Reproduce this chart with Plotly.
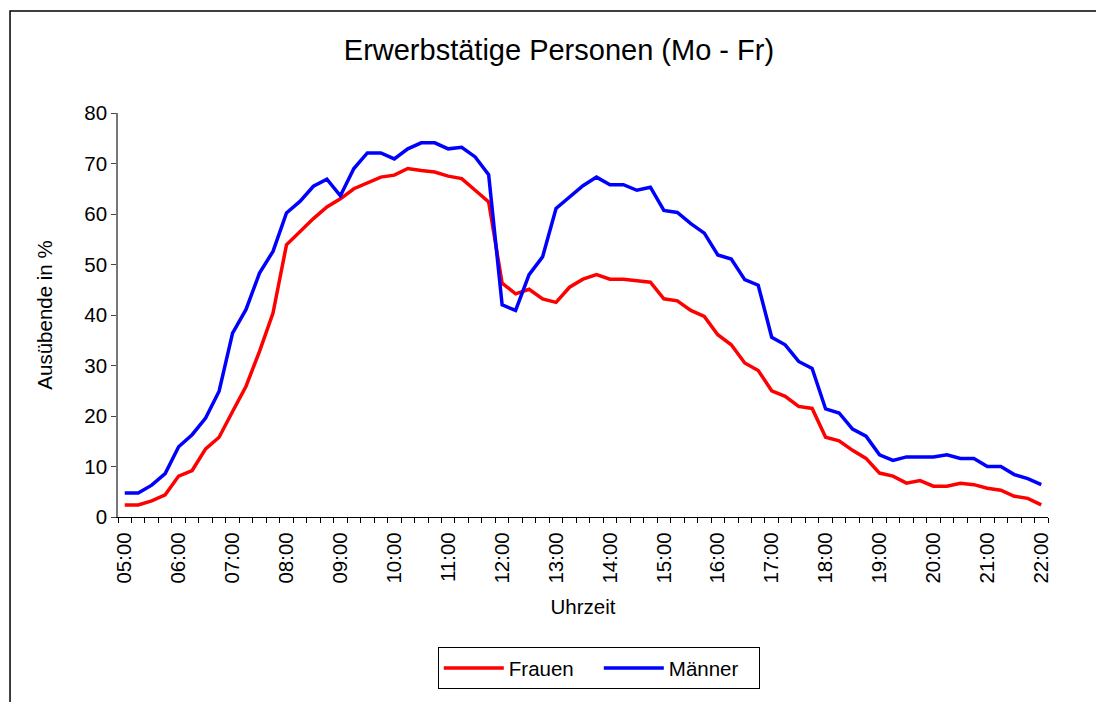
import plotly.graph_objects as go

# Time of day, every 15 minutes from 05:00 to 22:00
times = [f"{h:02d}:{m:02d}" for h in range(5, 23) for m in (0, 15, 30, 45)][:69]

frauen = [2.4, 2.4, 3.2, 4.4, 8.1, 9.2, 13.5, 15.8, 20.9, 25.9,
          32.8, 40.4, 53.9, 56.6, 59.1, 61.4, 63.0, 65.0, 66.1, 67.3,
          67.7, 69.0, 68.6, 68.3, 67.5, 67.0, 64.7, 62.4, 46.3, 44.2,
          45.1, 43.2, 42.5, 45.5, 47.1, 48.0, 47.1, 47.1, 46.8, 46.5,
          43.2, 42.8, 40.9, 39.7, 36.1, 34.1, 30.5, 29.0, 25.0, 23.9,
          21.9, 21.5, 15.8, 15.1, 13.2, 11.6, 8.7, 8.1, 6.7, 7.2,
          6.1, 6.1, 6.7, 6.4, 5.7, 5.3, 4.1, 3.7, 2.4]

maenner = [4.75, 4.75, 6.3, 8.6, 13.9, 16.3, 19.6, 24.9, 36.4, 41.1,
           48.3, 52.6, 60.2, 62.5, 65.5, 66.9, 63.6, 69.0, 72.1, 72.1,
           70.9, 72.9, 74.1, 74.1, 72.9, 73.2, 71.3, 67.8, 42.0, 40.9,
           48.0, 51.5, 61.1, 63.3, 65.6, 67.3, 65.8, 65.8, 64.7, 65.3,
           60.7, 60.3, 58.1, 56.2, 51.9, 51.1, 47.0, 45.9, 35.6, 34.1,
           30.8, 29.4, 21.4, 20.6, 17.4, 16.0, 12.3, 11.2, 11.9, 11.9,
           11.9, 12.3, 11.6, 11.6, 10.0, 10.0, 8.4, 7.6, 6.4]

idx = list(range(len(times)))
FONT = "Liberation Sans, Arial, sans-serif"

fig = go.Figure()
fig.add_trace(go.Scatter(x=idx, y=frauen, name="Frauen", mode="lines",
                         line=dict(color="#ff0000", width=3.5)))
fig.add_trace(go.Scatter(x=idx, y=maenner, name="Männer", mode="lines",
                         line=dict(color="#0000ff", width=3.5)))

fig.update_layout(
    width=1096, height=702,
    margin=dict(l=118, r=48, t=113, b=185),
    paper_bgcolor="white", plot_bgcolor="white",
    font=dict(family=FONT, size=20.5, color="black"),
    title=dict(text="Erwerbstätige Personen (Mo - Fr)", x=0.51, xanchor="center",
               y=1 - 50 / 702, yanchor="middle", font=dict(size=29)),
    showlegend=True,
    legend=dict(orientation="h", x=0.517, xanchor="center", y=-0.322, yanchor="top",
                bordercolor="black", borderwidth=1, font=dict(size=20.5),
                itemwidth=60, entrywidth=85, tracegroupgap=0),
)

fig.update_xaxes(
    range=[-0.5, len(times) - 0.5],
    tickmode="array", tickvals=idx[::4], ticktext=times[::4],
    tickangle=-90, ticks="outside", ticklen=6, tickcolor="rgba(0,0,0,0)",
    minor=dict(tickmode="array", tickvals=[i - 0.5 for i in range(len(times) + 1)],
               ticks="outside", ticklen=5, tickcolor="black", tickwidth=1),
    showline=True, linecolor="black", linewidth=1.2, showgrid=False, zeroline=False,
    title=dict(text="Uhrzeit", standoff=17, font=dict(size=20.5)),
)
fig.update_yaxes(
    range=[0, 80], dtick=10, ticks="outside", ticklen=5, tickcolor="#444",
    showline=True, linecolor="#777", linewidth=1.5, showgrid=False, zeroline=False,
    title=dict(text="Ausübende in %", standoff=26, font=dict(size=20.5)),
)

# outer chart frame (left and top edges visible in the original)
fig.add_shape(type="rect", xref="paper", yref="paper",
              x0=-0.1161, x1=1.2, y0=-1.0, y1=1.2525,
              line=dict(color="black", width=1.5), layer="below")

fig.write_html("out.html", config={"displayModeBar": False},
               post_script="document.body.style.margin='0';")
